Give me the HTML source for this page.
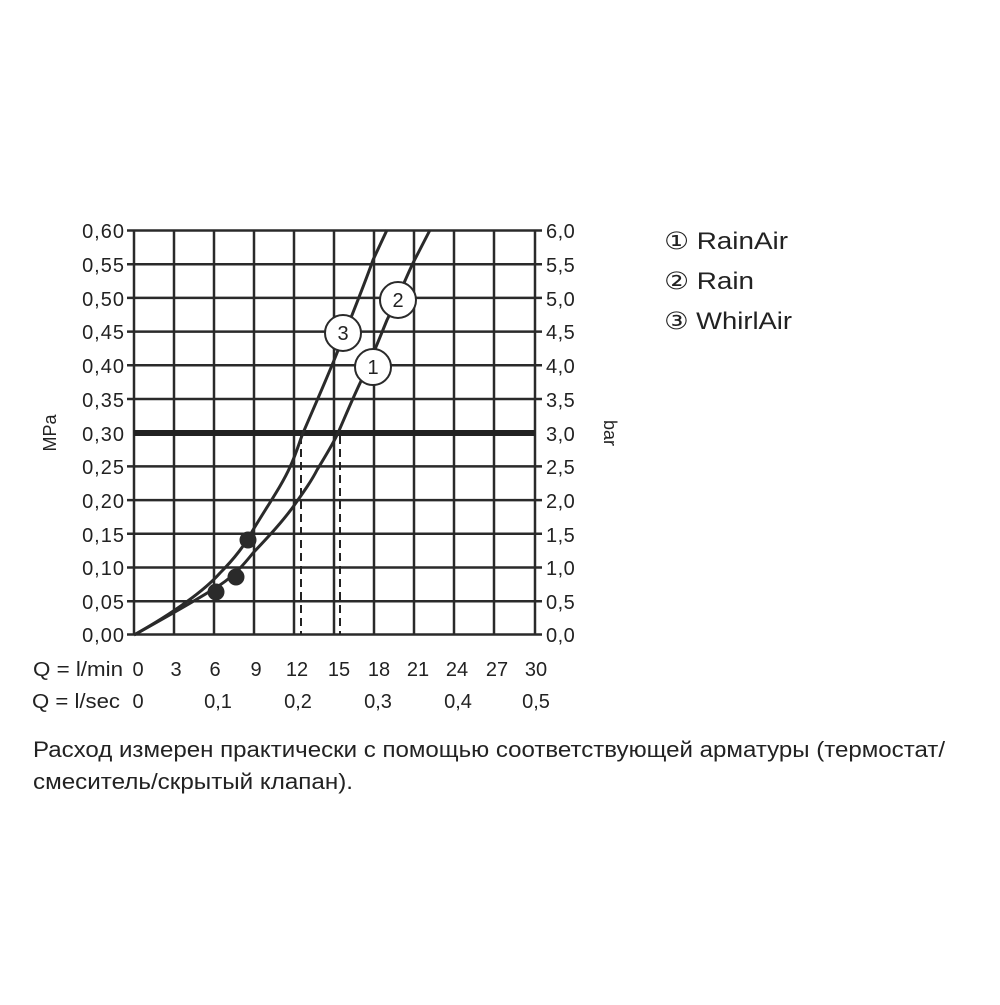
<!DOCTYPE html><html><head><style>body{margin:0;background:#fff}</style></head><body>
<svg width="1000" height="1000" xmlns="http://www.w3.org/2000/svg" font-family="Liberation Sans, DejaVu Sans, sans-serif" fill="#222">
<rect width="1000" height="1000" fill="#fff"/>
<g stroke="#2a2a2a" stroke-width="2.5">
<line x1="134" y1="230" x2="134" y2="635"/><line x1="174" y1="230" x2="174" y2="635"/><line x1="214" y1="230" x2="214" y2="635"/><line x1="254" y1="230" x2="254" y2="635"/><line x1="294" y1="230" x2="294" y2="635"/><line x1="334" y1="230" x2="334" y2="635"/><line x1="374" y1="230" x2="374" y2="635"/><line x1="414" y1="230" x2="414" y2="635"/><line x1="454" y1="230" x2="454" y2="635"/><line x1="494" y1="230" x2="494" y2="635"/><line x1="535" y1="230" x2="535" y2="635"/>
<line x1="127" y1="230.5" x2="542" y2="230.5"/><line x1="127" y1="264.2" x2="542" y2="264.2"/><line x1="127" y1="297.9" x2="542" y2="297.9"/><line x1="127" y1="331.6" x2="542" y2="331.6"/><line x1="127" y1="365.3" x2="542" y2="365.3"/><line x1="127" y1="399" x2="542" y2="399"/><line x1="127" y1="466.4" x2="542" y2="466.4"/><line x1="127" y1="500.1" x2="542" y2="500.1"/><line x1="127" y1="533.8" x2="542" y2="533.8"/><line x1="127" y1="567.5" x2="542" y2="567.5"/><line x1="127" y1="601.2" x2="542" y2="601.2"/><line x1="127" y1="634.5" x2="542" y2="634.5"/>
</g>
<line x1="134" y1="433" x2="535" y2="433" stroke="#222" stroke-width="6"/>
<g stroke="#222" stroke-width="2" stroke-dasharray="8,5"><line x1="301" y1="436" x2="301" y2="634"/><line x1="340" y1="436" x2="340" y2="634"/></g>
<g fill="none" stroke="#2a2a2a" stroke-width="3">
<path d="M134,635 C175,612 205,590 220,573 C235,558 245,545 253,530 C268,505 282,485 290,467 C297,452 300,440 303,433 C315,405 327,378 337,353 C352,315 365,283 373,260 L387,230"/>
<path d="M134,635 C170,615 200,598 220,585 C235,575 245,563 253,553 C270,535 282,522 293,507 C305,490 312,480 317,470 C326,455 333,444 338,433 C348,410 355,393 363,377 C373,355 380,337 387,320 C397,300 405,280 413,263 L430,230"/>
</g>
<g fill="#2a2a2a"><circle cx="248" cy="540" r="8.5"/><circle cx="236" cy="577" r="8.5"/><circle cx="216" cy="592" r="8.5"/></g>
<g fill="#fff" stroke="#2a2a2a" stroke-width="2"><circle cx="343" cy="333" r="18"/><circle cx="398" cy="300" r="18"/><circle cx="373" cy="367" r="18"/></g>
<g font-size="20" text-anchor="middle"><text x="343" y="340">3</text><text x="398" y="307">2</text><text x="373" y="374">1</text></g>
<g font-size="20" text-anchor="end" letter-spacing="1">
<text x="125" y="238">0,60</text><text x="125" y="272">0,55</text><text x="125" y="306">0,50</text><text x="125" y="339">0,45</text><text x="125" y="373">0,40</text><text x="125" y="407">0,35</text><text x="125" y="441">0,30</text><text x="125" y="474">0,25</text><text x="125" y="508">0,20</text><text x="125" y="542">0,15</text><text x="125" y="575">0,10</text><text x="125" y="609">0,05</text><text x="125" y="642">0,00</text>
</g>
<g font-size="20" letter-spacing="0.5">
<text x="546" y="238">6,0</text><text x="546" y="272">5,5</text><text x="546" y="306">5,0</text><text x="546" y="339">4,5</text><text x="546" y="373">4,0</text><text x="546" y="407">3,5</text><text x="546" y="441">3,0</text><text x="546" y="474">2,5</text><text x="546" y="508">2,0</text><text x="546" y="542">1,5</text><text x="546" y="575">1,0</text><text x="546" y="609">0,5</text><text x="546" y="642">0,0</text>
</g>
<text font-size="18" transform="translate(56,433) rotate(-90)" text-anchor="middle">MPa</text>
<text font-size="18" transform="translate(604,433) rotate(90)" text-anchor="middle">bar</text>
<g font-size="20" text-anchor="middle">
<text x="78" y="676" textLength="90" lengthAdjust="spacingAndGlyphs">Q = l/min</text><text x="138" y="676">0</text><text x="176" y="676">3</text><text x="215" y="676">6</text><text x="256" y="676">9</text><text x="297" y="676">12</text><text x="339" y="676">15</text><text x="379" y="676">18</text><text x="418" y="676">21</text><text x="457" y="676">24</text><text x="497" y="676">27</text><text x="536" y="676">30</text>
<text x="76" y="708" textLength="88" lengthAdjust="spacingAndGlyphs">Q = l/sec</text><text x="138" y="708">0</text><text x="218" y="708">0,1</text><text x="298" y="708">0,2</text><text x="378" y="708">0,3</text><text x="458" y="708">0,4</text><text x="536" y="708">0,5</text>
</g>
<g font-size="24">
<text x="664" y="249" textLength="124" lengthAdjust="spacingAndGlyphs">① RainAir</text><text x="664" y="289" textLength="90" lengthAdjust="spacingAndGlyphs">② Rain</text><text x="664" y="329" textLength="128" lengthAdjust="spacingAndGlyphs">③ WhirlAir</text>
</g>
<g font-size="22">
<text x="33" y="757" textLength="912" lengthAdjust="spacingAndGlyphs">Расход измерен практически с помощью соответствующей арматуры (термостат/</text>
<text x="33" y="789" textLength="320" lengthAdjust="spacingAndGlyphs">смеситель/скрытый клапан).</text>
</g>
</svg></body></html>
